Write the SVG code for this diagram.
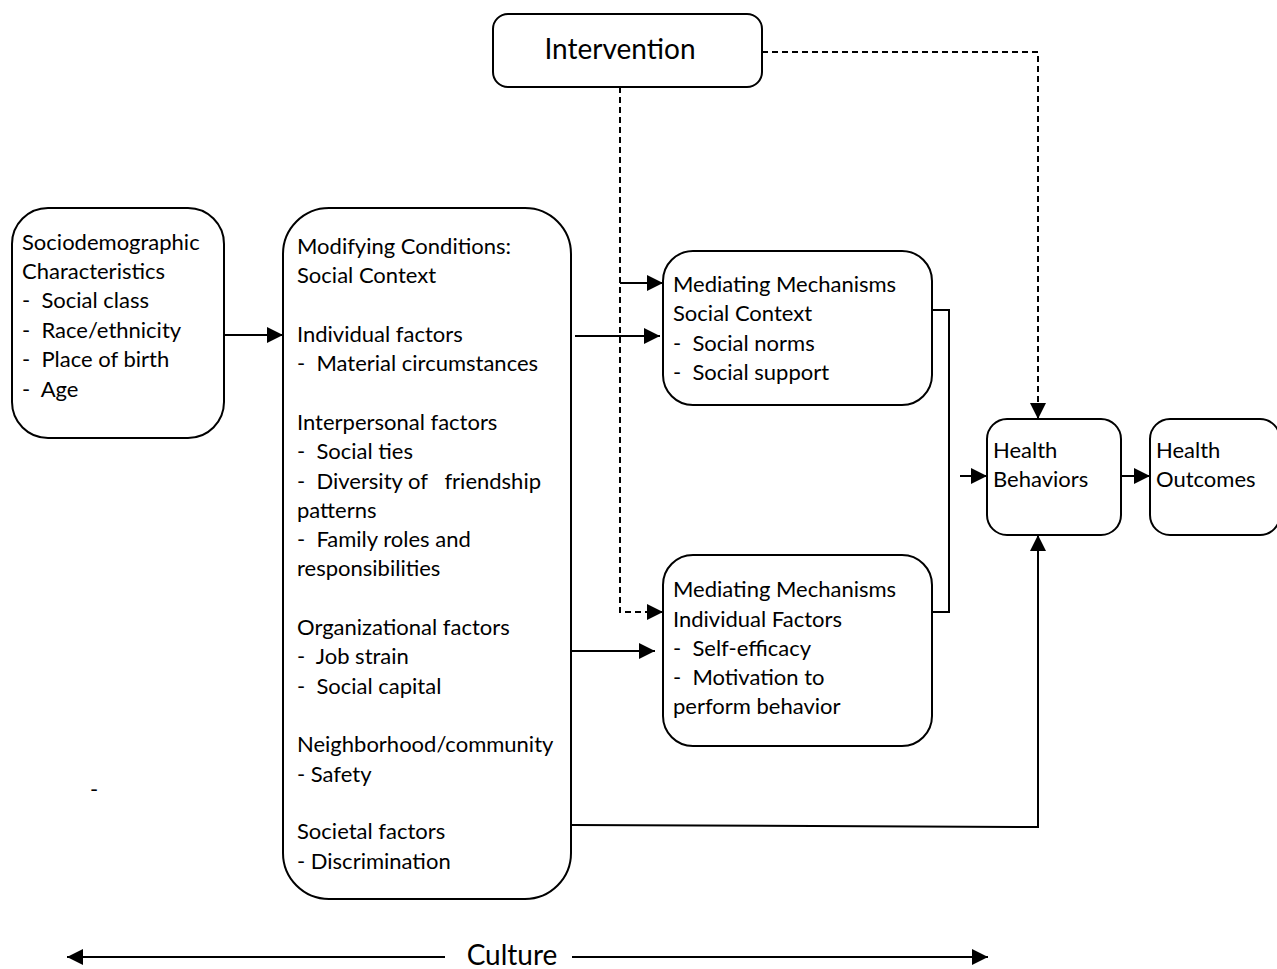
<svg xmlns="http://www.w3.org/2000/svg" width="1277" height="969" viewBox="0 0 1277 969" xml:space="preserve">
<style>
.box{fill:#fff;stroke:#000;stroke-width:2}
.t{font-family:Lato,"Liberation Sans",sans-serif;font-size:22px;fill:#000;white-space:pre}
.big{font-family:Lato,"Liberation Sans",sans-serif;font-size:28px;fill:#000}
.ln{fill:none;stroke:#000;stroke-width:2}
.dash{fill:none;stroke:#000;stroke-width:2;stroke-dasharray:6,4}
</style>
<defs>
<marker id="ahb" markerWidth="16" markerHeight="16" refX="16" refY="8" orient="auto" markerUnits="userSpaceOnUse" viewBox="0 0 16 16">
<path d="M0,0 L16,8 L0,16 Z" fill="#000"/>
</marker>
</defs>
<rect width="1277" height="969" fill="#fff"/>
<g id="connectors">
<line class="ln" x1="224" y1="335" x2="283" y2="335" marker-end="url(#ahb)"/>
<line class="ln" x1="575" y1="336" x2="660" y2="336" marker-end="url(#ahb)"/>
<line class="ln" x1="620" y1="283" x2="663" y2="283" marker-end="url(#ahb)"/>
<line class="ln" x1="571" y1="651" x2="655" y2="651" marker-end="url(#ahb)"/>
<polyline class="dash" points="620,87 620,612 648,612"/>
<line class="ln" x1="648" y1="612" x2="663" y2="612" marker-end="url(#ahb)"/>
<polyline class="dash" points="762,52 1038,52 1038,403"/>
<line class="ln" x1="1038" y1="403" x2="1038" y2="419" marker-end="url(#ahb)"/>
<polyline class="ln" points="932,310 949,310 949,612 932,612"/>
<line class="ln" x1="960" y1="476" x2="987" y2="476" marker-end="url(#ahb)"/>
<polyline class="ln" points="571,825 1038,827 1038,535" marker-end="url(#ahb)"/>
<line class="ln" x1="1121" y1="476" x2="1150" y2="476" marker-end="url(#ahb)"/>
<line class="ln" x1="445" y1="957" x2="67" y2="957" marker-end="url(#ahb)"/>
<line class="ln" x1="572" y1="957" x2="988" y2="957" marker-end="url(#ahb)"/>
</g>
<g id="sociodemographic">
<rect class="box" x="12" y="208" width="212" height="230" rx="36"/>
<text class="t" x="22" y="250">Sociodemographic</text>
<text class="t" x="22" y="279">Characteristics</text>
<text class="t" x="22" y="308">-  Social class</text>
<text class="t" x="22" y="338">-  Race/ethnicity</text>
<text class="t" x="22" y="367">-  Place of birth</text>
<text class="t" x="22" y="397">-  Age</text>
</g>
<g id="modifying">
<rect class="box" x="283" y="208" width="288" height="691" rx="46"/>
<text class="t" x="297" y="254">Modifying Conditions:</text>
<text class="t" x="297" y="283">Social Context</text>
<text class="t" x="297" y="342">Individual factors</text>
<text class="t" x="297" y="371">-  Material circumstances</text>
<text class="t" x="297" y="430">Interpersonal factors</text>
<text class="t" x="297" y="459">-  Social ties</text>
<text class="t" x="297" y="489">-  Diversity of   friendship</text>
<text class="t" x="297" y="518">patterns</text>
<text class="t" x="297" y="547">-  Family roles and</text>
<text class="t" x="297" y="576">responsibilities</text>
<text class="t" x="297" y="635">Organizational factors</text>
<text class="t" x="297" y="664">-  Job strain</text>
<text class="t" x="297" y="694">-  Social capital</text>
<text class="t" x="297" y="752">Neighborhood/community</text>
<text class="t" x="297" y="782">- Safety</text>
<text class="t" x="297" y="839">Societal factors</text>
<text class="t" x="297" y="869">- Discrimination</text>
</g>
<g id="intervention">
<rect class="box" x="493" y="14" width="269" height="73" rx="15"/>
<text class="big" x="620" y="59" text-anchor="middle">Intervention</text>
</g>
<g id="mediating-social">
<rect class="box" x="663" y="251" width="269" height="154" rx="30"/>
<text class="t" x="673" y="292">Mediating Mechanisms</text>
<text class="t" x="673" y="321">Social Context</text>
<text class="t" x="673" y="351">-  Social norms</text>
<text class="t" x="673" y="380">-  Social support</text>
</g>
<g id="mediating-individual">
<rect class="box" x="663" y="555" width="269" height="191" rx="30"/>
<text class="t" x="673" y="597">Mediating Mechanisms</text>
<text class="t" x="673" y="627">Individual Factors</text>
<text class="t" x="673" y="656">-  Self-efficacy</text>
<text class="t" x="673" y="685">-  Motivation to</text>
<text class="t" x="673" y="714">perform behavior</text>
</g>
<g id="health-behaviors">
<rect class="box" x="987" y="419" width="134" height="116" rx="20"/>
<text class="t" x="993" y="458">Health</text>
<text class="t" x="993" y="487">Behaviors</text>
</g>
<g id="health-outcomes">
<rect class="box" x="1150" y="419" width="130" height="116" rx="20"/>
<text class="t" x="1156" y="458">Health</text>
<text class="t" x="1156" y="487">Outcomes</text>
</g>
<g id="culture">
<text class="big" x="512" y="965" text-anchor="middle">Culture</text>
</g>
<text class="t" x="90" y="797">-</text>
</svg>
